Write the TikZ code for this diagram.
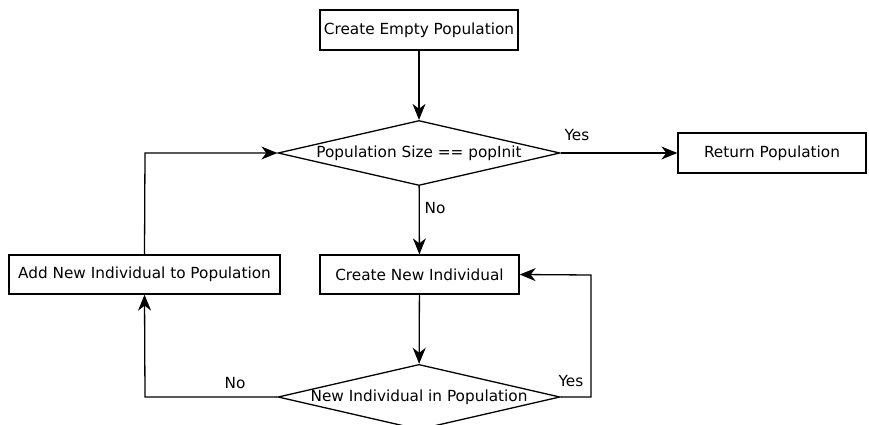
\documentclass[tikz,border=0pt]{standalone}
\usepackage{fontspec}
\setmainfont{DejaVu Sans}
\usetikzlibrary{shapes.geometric,arrows.meta}
\begin{document}
\begin{tikzpicture}[x=1pt,y=-1pt,
  every node/.style={font=\fontsize{15.3}{18}\selectfont},
  box/.style={draw,line width=1.3pt,inner sep=0pt,rectangle},
  dia/.style={draw,line width=1.3pt,diamond,inner sep=0pt,minimum width=282pt,minimum height=65pt,aspect=4.3},
  lbl/.style={inner sep=0pt},
  arr/.style={line width=1.3pt,-{Stealth[length=16pt,width=13pt,inset=5pt]}},
  ln/.style={line width=1.3pt}]
\useasboundingbox (0,0) rectangle (869,425);
\node[box,minimum width=198pt,minimum height=40pt] (cep) at (419,30) {Create Empty Population};
\node[dia] (d1) at (419,153) {Population Size == popInit};
\node[box,minimum width=188pt,minimum height=40pt] (rp) at (772,153) {Return Population};
\node[box,minimum width=199pt,minimum height=39pt] (cni) at (419.5,274.5) {Create New Individual};
\node[box,minimum width=271pt,minimum height=39pt] (ani) at (144.5,274.5) {Add New Individual to Population};
\node[dia] (d2) at (419,397) {New Individual in Population};
\coordinate (c1) at (145,153);
\coordinate (c2) at (145,397);
\coordinate (c3) at (591,397);
\coordinate (c4) at (591,275);
\draw[arr] (cep) -- (d1);
\draw[arr] (d1) -- (rp);
\draw[arr] (d1) -- (cni);
\draw[arr] (cni) -- (d2);
\draw[arr] (d2.east) -- (c3) -- (c4) -- (cni.east);
\draw[arr] (d2.west) -- (c2) -- (ani.south);
\draw[arr] (ani.north) -- (c1) -- (d1.west);
\node[lbl] (y1) at (577,135) {Yes};
\node[lbl] (n1) at (435,208) {No};
\node[lbl] (y2) at (571,381) {Yes};
\node[lbl] (n2) at (235,383) {No};
\end{tikzpicture}
\end{document}
